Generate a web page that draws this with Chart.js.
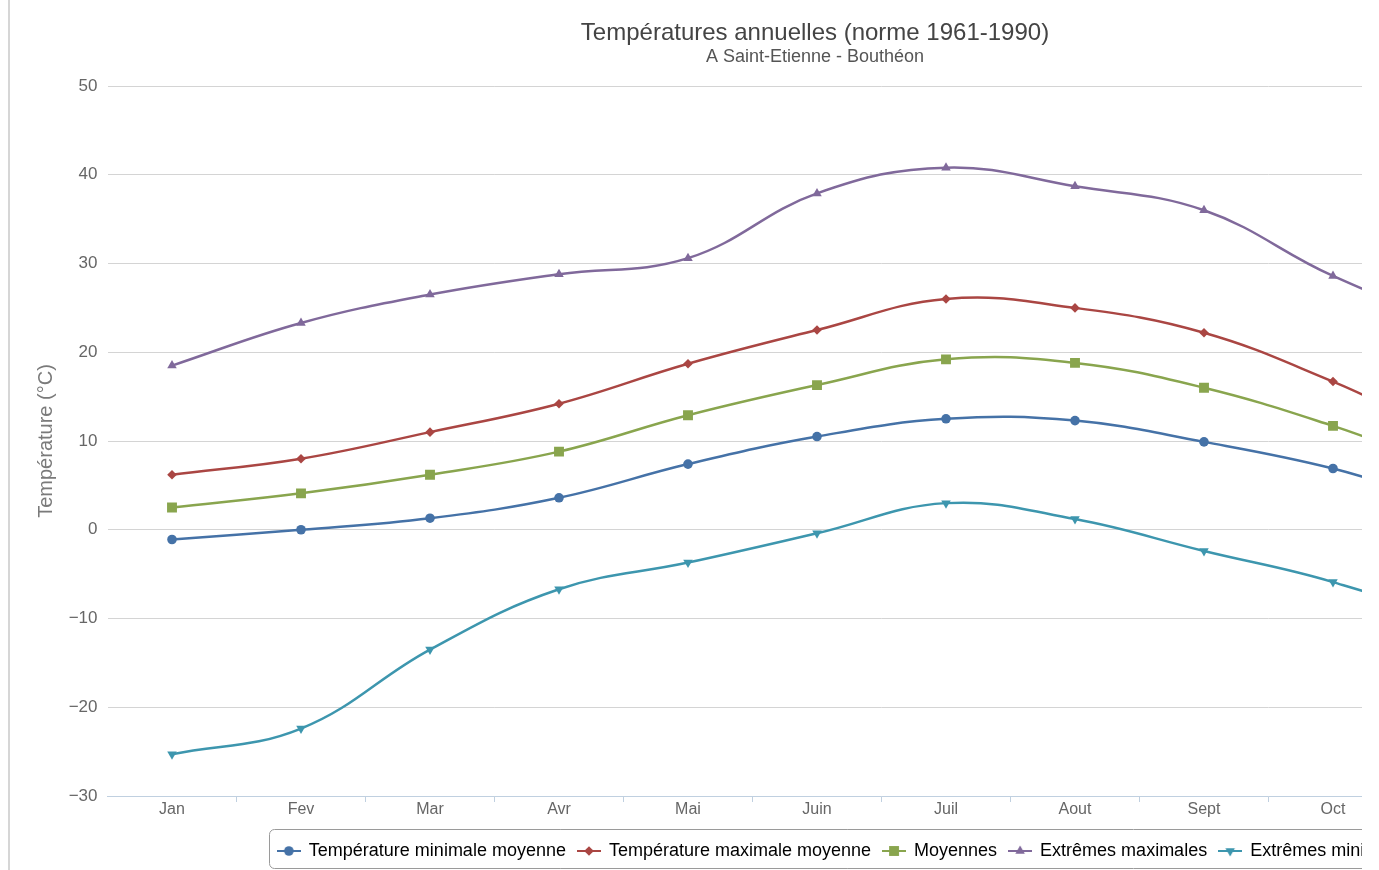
<!DOCTYPE html>
<html lang="fr">
<head>
<meta charset="utf-8">
<title>Températures annuelles - Saint-Etienne Bouthéon</title>
<script src="https://cdn.jsdelivr.net/npm/chart.js@4.4.1/dist/chart.umd.min.js"></script>
<style>
    html, body {
        margin: 0;
        padding: 0;
        background: #fff;
        overflow: hidden;
    }
    #frame {
        position: absolute;
        left: 0;
        top: 0;
        width: 1362px;
        height: 870px;
        overflow: hidden;
    }
    #frame::before {
        content: '';
        position: absolute;
        left: 8px;
        top: 0;
        width: 2px;
        height: 870px;
        background: #d6d6d6;
        z-index: 2;
    }
    #chartBox {
        position: absolute;
        left: 0;
        top: 0;
        width: 1700px;
        height: 870px;
    }
</style>
</head>
<body>
<div id="frame">
    <div id="chartBox"><canvas id="tempChart"></canvas></div>
</div>
<script>
// Normales 1961-1990, Saint-Etienne - Bouthéon (°C)
const months = ['Jan', 'Fev', 'Mar', 'Avr', 'Mai', 'Juin', 'Juil', 'Aout', 'Sept', 'Oct', 'Nov', 'Dec'];
const minMoyenne = [-1.1, 0.0, 1.3, 3.6, 7.4, 10.5, 12.5, 12.3, 9.9, 6.9, 2.6, 0.0];
const maxMoyenne = [6.2, 8.0, 11.0, 14.2, 18.7, 22.5, 26.0, 25.0, 22.2, 16.7, 10.3, 6.9];
const moyennes = [2.5, 4.1, 6.2, 8.8, 12.9, 16.3, 19.2, 18.8, 16.0, 11.7, 6.6, 3.4];
const extremesMax = [18.5, 23.3, 26.5, 28.8, 30.6, 37.9, 40.8, 38.7, 36.0, 28.6, 23.0, 19.5];
const extremesMin = [-25.3, -22.4, -13.5, -6.7, -3.7, -0.4, 3.0, 1.2, -2.4, -5.9, -11.0, -19.0];

const chartTitle = 'Températures annuelles (norme 1961-1990)';
const chartSubtitle = 'A Saint-Etienne - Bouthéon';
const headingX = 815;

const FONT = '"Liberation Sans", Arial, sans-serif';
Chart.defaults.font.family = FONT;

function series(label, data, color, pointStyle, radius, rotation) {
    return {
        label: label,
        data: data,
        borderColor: color,
        backgroundColor: color,
        borderWidth: 2.5,
        tension: 0.4,
        pointStyle: pointStyle,
        pointRadius: radius,
        pointRotation: rotation || 0,
        pointBorderWidth: 0,
        pointBackgroundColor: color,
        pointHoverRadius: radius
    };
}

// Small line + marker symbol used in the legend
function legendSymbol(ds) {
    const c = document.createElement('canvas');
    c.width = 24;
    c.height = 14;
    const ctx = c.getContext('2d');
    ctx.strokeStyle = ds.borderColor;
    ctx.lineWidth = 2;
    ctx.beginPath();
    ctx.moveTo(0, 7);
    ctx.lineTo(24, 7);
    ctx.stroke();
    ctx.fillStyle = ds.backgroundColor;
    ctx.strokeStyle = ds.backgroundColor;
    Chart.helpers.drawPoint(ctx, {
        pointStyle: ds.pointStyle,
        radius: ds.pointRadius,
        rotation: ds.pointRotation,
        borderWidth: 0
    }, 12, 7);
    return c;
}

const heading = {
    id: 'heading',
    afterDraw(chart) {
        const ctx = chart.ctx;
        ctx.save();
        ctx.textAlign = 'center';
        ctx.textBaseline = 'middle';
        ctx.fillStyle = '#444';
        ctx.font = '24px ' + FONT;
        ctx.fillText(chartTitle, headingX, 33);
        ctx.fillStyle = '#555';
        ctx.font = '18px ' + FONT;
        ctx.fillText(chartSubtitle, headingX, 57);
        ctx.restore();
    }
};

const legendFrame = {
    id: 'legendFrame',
    afterDraw(chart) {
        const boxes = chart.legend.legendHitBoxes;
        if (!boxes || !boxes.length) return;
        const first = boxes[0];
        const last = boxes[boxes.length - 1];
        const x = first.left - 9;
        const y = first.top - 13;
        const w = last.left + last.width + 12 - x;
        const h = first.height + 21;
        const ctx = chart.ctx;
        ctx.save();
        ctx.strokeStyle = '#9a9a9a';
        ctx.lineWidth = 1;
        ctx.beginPath();
        ctx.roundRect(Math.round(x) + 0.5, Math.round(y) + 0.5, w, h, 5);
        ctx.stroke();
        ctx.restore();
    }
};

const ctx = document.getElementById('tempChart').getContext('2d');
const tempChart = new Chart(ctx, {
    type: 'line',
    data: {
        labels: months,
        datasets: [
            series('Température minimale moyenne', minMoyenne, '#4572A7', 'circle', 4.8),
            series('Température maximale moyenne', maxMoyenne, '#AA4643', 'rectRot', 4.8),
            series('Moyennes', moyennes, '#89A54E', 'rect', 7),
            series('Extrêmes maximales', extremesMax, '#80699B', 'triangle', 5.5),
            series('Extrêmes minimales', extremesMin, '#3D96AE', 'triangle', 5.5, 180)
        ]
    },
    options: {
        responsive: true,
        maintainAspectRatio: false,
        animation: false,
        layout: {
            padding: { left: 34.5, right: 44.5, top: 86, bottom: 0 }
        },
        scales: {
            x: {
                offset: true,
                grid: {
                    offset: true,
                    drawOnChartArea: false,
                    tickLength: 6,
                    tickColor: (c) => c.index === 0 ? 'rgba(0,0,0,0)' : '#C0D0E0'
                },
                border: { color: '#C0D0E0', width: 1 },
                ticks: {
                    padding: -2,
                    color: '#666',
                    font: { size: 16 },
                    maxRotation: 0,
                    autoSkip: false
                },
                afterFit: (scale) => { scale.height = 34; }
            },
            y: {
                min: -30,
                max: 50,
                grid: { color: '#d4d4d4', drawTicks: false },
                border: { display: false },
                ticks: {
                    stepSize: 10,
                    padding: 10,
                    color: '#666',
                    font: { size: 17 },
                    callback: (v) => v < 0 ? '\u2212' + Math.abs(v) : String(v)
                },
                title: {
                    display: true,
                    text: 'Température (°C)',
                    color: '#7a7a7a',
                    font: { size: 20 },
                    padding: { top: -0.5, bottom: 0 }
                },
                afterFit: (scale) => { scale.width = 73; }
            }
        },
        plugins: {
            legend: {
                position: 'bottom',
                align: 'center',
                labels: {
                    usePointStyle: true,
                    pointStyleWidth: 22,
                    boxHeight: 18,
                    padding: 12,
                    color: '#333',
                    font: { size: 18 },
                    generateLabels: (chart) => chart.data.datasets.map((ds, i) => ({
                        text: ds.label,
                        pointStyle: legendSymbol(ds),
                        fillStyle: ds.backgroundColor,
                        strokeStyle: ds.borderColor,
                        lineWidth: 0,
                        rotation: 0,
                        hidden: !chart.isDatasetVisible(i),
                        datasetIndex: i
                    }))
                }
            },
            tooltip: { enabled: true }
        }
    },
    plugins: [heading, legendFrame]
});
</script>
</body>
</html>
